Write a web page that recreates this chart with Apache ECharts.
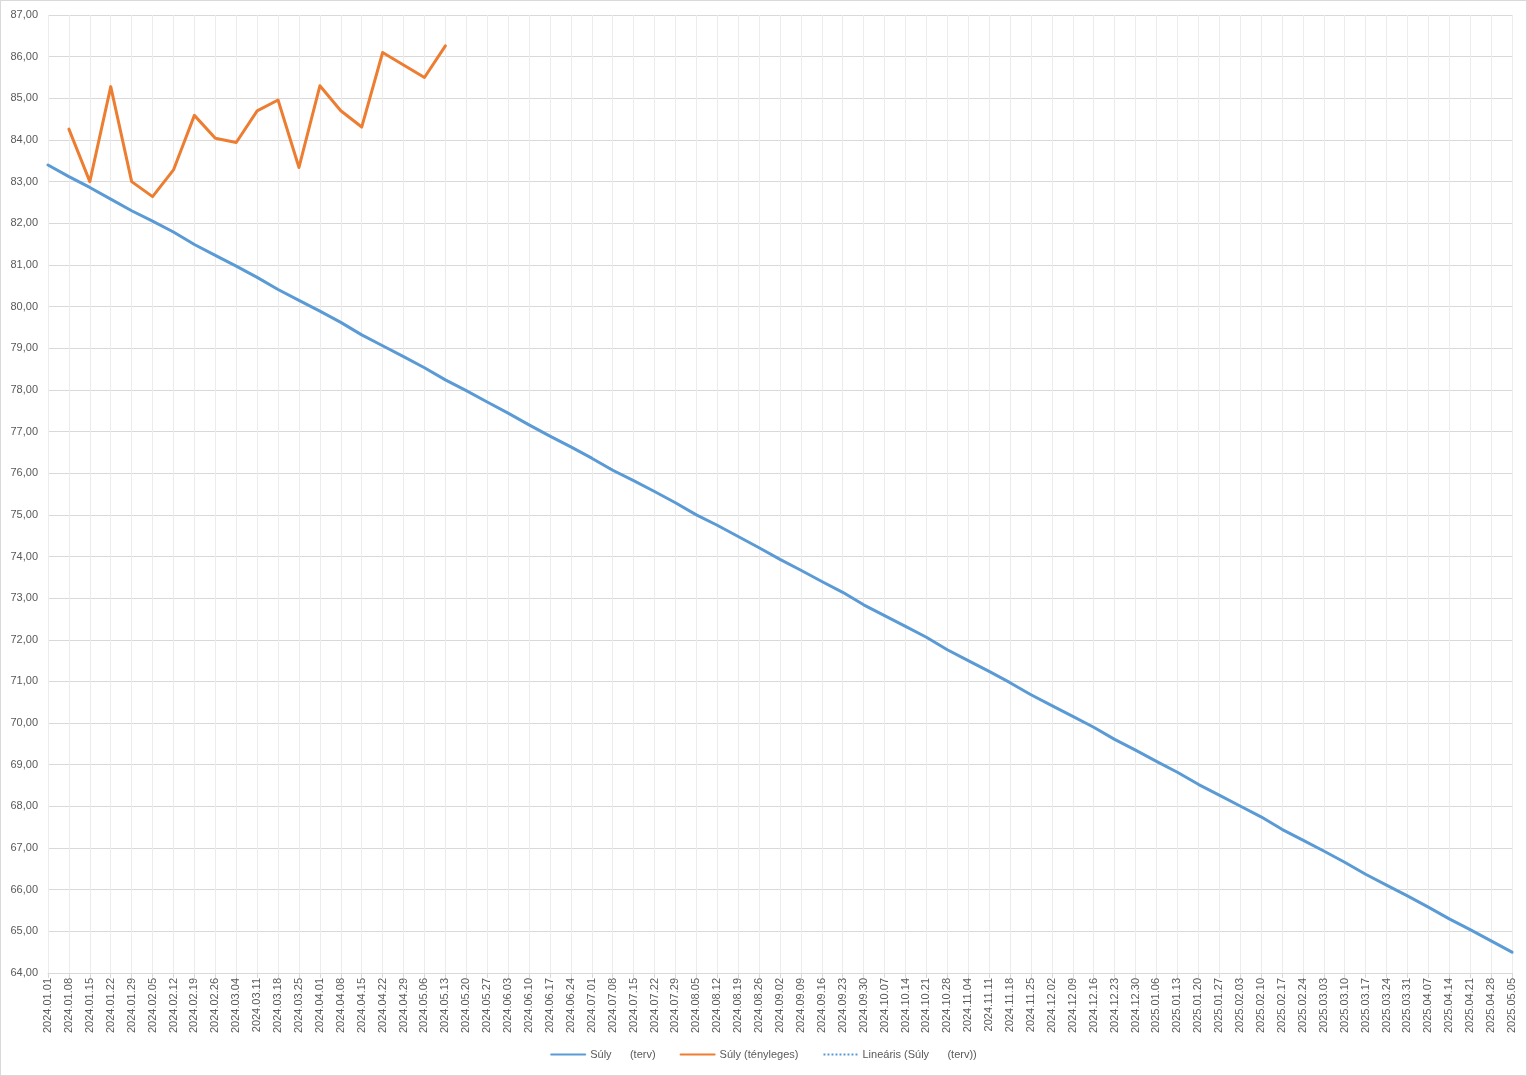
<!DOCTYPE html>
<html>
<head>
<meta charset="utf-8">
<script src="https://cdn.jsdelivr.net/npm/echarts@6/dist/echarts.min.js"></script>
<style>
html,body{margin:0;padding:0;background:#fff;}
#c{width:1525px;height:1074px;border:1px solid #d9d9d9;}
</style>
</head>
<body>
<div id="c"></div>
<script>
const categories = [
'2024.01.01','2024.01.08','2024.01.15','2024.01.22','2024.01.29','2024.02.05','2024.02.12','2024.02.19','2024.02.26',
'2024.03.04','2024.03.11','2024.03.18','2024.03.25','2024.04.01','2024.04.08','2024.04.15','2024.04.22','2024.04.29',
'2024.05.06','2024.05.13','2024.05.20','2024.05.27','2024.06.03','2024.06.10','2024.06.17','2024.06.24','2024.07.01',
'2024.07.08','2024.07.15','2024.07.22','2024.07.29','2024.08.05','2024.08.12','2024.08.19','2024.08.26','2024.09.02',
'2024.09.09','2024.09.16','2024.09.23','2024.09.30','2024.10.07','2024.10.14','2024.10.21','2024.10.28','2024.11.04',
'2024.11.11','2024.11.18','2024.11.25','2024.12.02','2024.12.09','2024.12.16','2024.12.23','2024.12.30',
'2025.01.06','2025.01.13','2025.01.20','2025.01.27','2025.02.03','2025.02.10','2025.02.17','2025.02.24','2025.03.03',
'2025.03.10','2025.03.17','2025.03.24','2025.03.31','2025.04.07','2025.04.14','2025.04.21','2025.04.28','2025.05.05'
];
const planned = [
83.40,83.12,82.86,82.58,82.30,82.05,81.79,81.49,81.23,80.97,80.70,80.41,80.15,79.89,79.62,79.32,79.06,78.80,78.53,78.24,
77.98,77.71,77.44,77.16,76.89,76.63,76.36,76.07,75.82,75.56,75.29,75.00,74.75,74.48,74.21,73.93,73.67,73.40,73.14,72.84,
72.58,72.32,72.06,71.76,71.50,71.24,70.97,70.68,70.42,70.16,69.90,69.61,69.35,69.08,68.82,68.53,68.27,68.01,67.75,67.45,
67.19,66.93,66.66,66.37,66.11,65.85,65.58,65.30,65.04,64.77,64.50
];
const actual = [
null,84.26,83.00,85.28,83.00,82.64,83.28,84.59,84.04,83.94,84.70,84.96,83.34,85.30,84.70,84.31,86.10,85.80,85.50,86.26
];
const yTicks = {min:64, max:87, interval:1};
const seriesNames = ['Súly      (terv)','Súly (tényleges)','Lineáris (Súly      (terv))'];

// least-squares trend of the plan series (Excel linear trendline)
const n = planned.length;
let sx=0, sy=0, sxy=0, sxx=0;
planned.forEach((v,i)=>{sx+=i;sy+=v;sxy+=i*v;sxx+=i*i;});
const slope = (n*sxy - sx*sy)/(n*sxx - sx*sx);
const icpt = (sy - slope*sx)/n;
const trend = planned.map((v,i)=>+(icpt+slope*i).toFixed(3));

const font = 'Liberation Sans, Arial, sans-serif';
const chart = echarts.init(document.getElementById('c'));
chart.setOption({
  animation:false,
  textStyle:{fontFamily:font},
  grid:{left:47,right:14,top:14,bottom:102,containLabel:false},
  legend:{
    bottom:10,left:'center',
    itemWidth:34,itemHeight:10,itemGap:24,
    itemStyle:{opacity:0},
    textStyle:{color:'#595959',fontSize:11,fontFamily:font},
    data:seriesNames
  },
  xAxis:{
    type:'category',boundaryGap:false,data:categories,
    axisLine:{lineStyle:{color:'#d9d9d9'}},
    axisTick:{show:true,alignWithLabel:true,length:5,lineStyle:{color:'#d9d9d9'}},
    axisLabel:{rotate:90,interval:0,color:'#595959',fontSize:11,margin:5,fontFamily:font},
    splitLine:{show:true,interval:0,lineStyle:{color:'#ececec',width:1}}
  },
  yAxis:{
    type:'value',min:yTicks.min,max:yTicks.max,interval:yTicks.interval,
    axisLine:{show:false},axisTick:{show:false},
    axisLabel:{color:'#595959',fontSize:11,margin:10,fontFamily:font,
      formatter:v=>v.toFixed(2).replace('.',',')},
    splitLine:{lineStyle:{color:'#d9d9d9',width:1}}
  },
  series:[
    {name:seriesNames[2],type:'line',data:trend,symbol:'none',z:1,
      lineStyle:{color:'#5b9bd5',width:1,type:'dotted'},itemStyle:{color:'#5b9bd5'}},
    {name:seriesNames[0],type:'line',data:planned,symbol:'none',z:2,
      lineStyle:{color:'#5b9bd5',width:3,cap:'round',join:'round'},itemStyle:{color:'#5b9bd5'}},
    {name:seriesNames[1],type:'line',data:actual,symbol:'none',z:3,
      lineStyle:{color:'#ed7d31',width:3,cap:'round',join:'round'},itemStyle:{color:'#ed7d31'}}
  ]
});
</script>
</body>
</html>
